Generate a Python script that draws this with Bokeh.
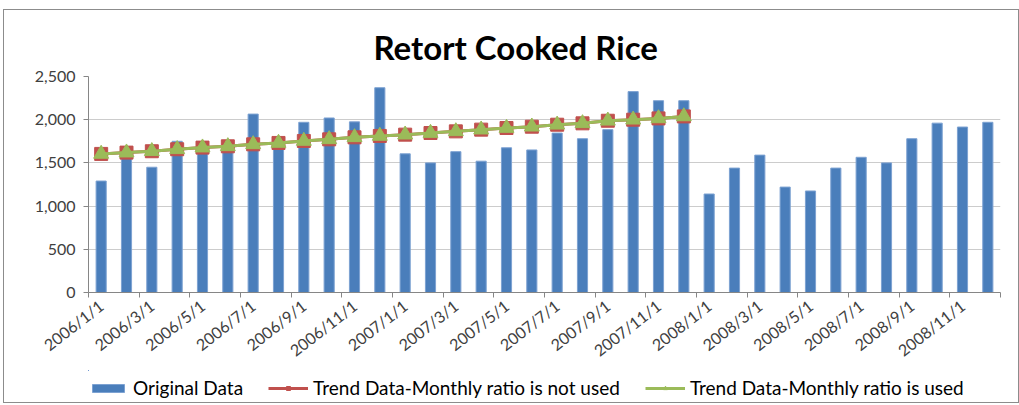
from bokeh.plotting import figure
from bokeh.layouts import column
from bokeh.models import (FixedTicker, NumeralTickFormatter, Legend, LegendItem, Range1d)
from bokeh.embed import file_html
from bokeh.resources import INLINE

months = ["2006/1/1", "2006/2/1", "2006/3/1", "2006/4/1", "2006/5/1", "2006/6/1",
          "2006/7/1", "2006/8/1", "2006/9/1", "2006/10/1", "2006/11/1", "2006/12/1",
          "2007/1/1", "2007/2/1", "2007/3/1", "2007/4/1", "2007/5/1", "2007/6/1",
          "2007/7/1", "2007/8/1", "2007/9/1", "2007/10/1", "2007/11/1", "2007/12/1",
          "2008/1/1", "2008/2/1", "2008/3/1", "2008/4/1", "2008/5/1", "2008/6/1",
          "2008/7/1", "2008/8/1", "2008/9/1", "2008/10/1", "2008/11/1", "2008/12/1"]

original_data = [1290, 1580, 1450, 1750, 1680, 1720, 2065, 1700, 1970, 2020, 1975, 2370,
                 1605, 1500, 1630, 1520, 1675, 1650, 1845, 1780, 1885, 2325, 2220, 2220,
                 1140, 1440, 1590, 1220, 1175, 1440, 1565, 1500, 1780, 1960, 1915, 1970]

trend_not_used = [1604, 1619, 1635, 1658, 1677, 1692, 1715, 1731, 1754, 1773, 1796, 1812,
                  1827, 1846, 1865, 1885, 1904, 1919, 1942, 1958, 1988, 2000, 2015, 2038]

trend_used = [1604, 1619, 1635, 1658, 1677, 1692, 1715, 1731, 1754, 1773, 1796, 1812,
              1827, 1846, 1865, 1885, 1904, 1919, 1942, 1958, 1988, 2000, 2015, 2038]

y_ticks = [0, 500, 1000, 1500, 2000, 2500]

series_names = ["Original Data", "Trend Data-Monthly ratio is not used",
                "Trend Data-Monthly ratio is used"]

x = list(range(1, len(months) + 1))
xt = x[:len(trend_not_used)]
label_ticks = x[::2]
boundary_ticks = [t - 0.5 for t in label_ticks] + [len(months) + 0.5]

FONT = "Lato"
GREY = "#868686"
TXT = "#404040"
BLUE = "#4a7ebb"
BAR_EDGE = "#7da2d2"
RED = "#c0504d"
GREEN = "#9bbb59"
W = 1014


def draw_series(fig, sq_size, tri_size):
    bar = fig.vbar(x=x, top=original_data, width=0.4, fill_color=BLUE,
                   line_color=BAR_EDGE, line_width=1)
    rl = fig.line(xt, trend_not_used, line_color=RED, line_width=3)
    rm = fig.scatter(xt, trend_not_used, marker="square", size=sq_size,
                     fill_color=RED, line_color=RED)
    gl = fig.line(xt, trend_used, line_color=GREEN, line_width=3)
    gm = fig.scatter(xt, trend_used, marker="triangle", size=tri_size,
                     fill_color=GREEN, line_color=GREEN)
    return bar, rl, rm, gl, gm


p = figure(width=W, height=360, output_backend="svg", toolbar_location=None,
           x_range=Range1d(0.5, len(months) + 0.5), y_range=Range1d(0, 2500),
           min_border_left=84, min_border_right=18, min_border_top=66, min_border_bottom=78)
p.outline_line_color = None

p.title.text = "Retort Cooked Rice"
p.title.align = "left"
p.title.offset = 285
p.title.text_font = FONT
p.title.text_font_style = "bold"
p.title.text_font_size = "33px"
p.title.text_color = "#000000"
p.title.standoff = 20

# y axis
p.yaxis.ticker = FixedTicker(ticks=y_ticks)
p.yaxis.formatter = NumeralTickFormatter(format="0,0")
p.yaxis.axis_line_color = GREY
p.yaxis.major_tick_line_color = GREY
p.yaxis.major_tick_out = 5
p.yaxis.major_tick_in = 0
p.yaxis.minor_tick_line_color = None
p.yaxis.major_label_text_font = FONT
p.yaxis.major_label_text_font_size = "16px"
p.yaxis.major_label_text_color = TXT
p.yaxis.major_label_standoff = 8

# x axis
p.xaxis.ticker = FixedTicker(ticks=label_ticks, minor_ticks=boundary_ticks)
p.xaxis.major_label_overrides = {t: months[t - 1] for t in label_ticks}
p.xaxis.major_label_orientation = 0.66
p.xaxis.major_tick_out = 0
p.xaxis.major_tick_in = 0
p.xaxis.minor_tick_out = 5
p.xaxis.minor_tick_in = 0
p.xaxis.minor_tick_line_color = GREY
p.xaxis.axis_line_color = GREY
p.xaxis.major_label_text_font = FONT
p.xaxis.major_label_text_font_size = "16px"
p.xaxis.major_label_text_color = TXT
p.xaxis.major_label_standoff = 6

p.xgrid.grid_line_color = None
p.ygrid.grid_line_color = "#cccccc"
p.ygrid.ticker = FixedTicker(ticks=y_ticks)

draw_series(p, 13, 15)

# legend strip: same series drawn out of view, only their legend is shown
lg = figure(width=W, height=32, output_backend="svg", toolbar_location=None,
            x_range=Range1d(1000, 1001), y_range=Range1d(-2, -1),
            x_axis_location=None, y_axis_location=None,
            min_border_left=0, min_border_right=0, min_border_top=0, min_border_bottom=0)
lg.grid.visible = False
lg.outline_line_color = None
l_bar, l_rl, l_rm, l_gl, l_gm = draw_series(lg, 9, 10)

legend = Legend(items=[
    LegendItem(label=series_names[0], renderers=[l_bar]),
    LegendItem(label=series_names[1], renderers=[l_rl, l_rm]),
    LegendItem(label=series_names[2], renderers=[l_gl, l_gm]),
], orientation="horizontal", location=(0, 3))
legend.border_line_color = None
legend.background_fill_alpha = 0
legend.label_text_font = FONT
legend.label_text_font_size = "19px"
legend.label_text_color = "#000000"
legend.glyph_width = 40
legend.glyph_height = 10
legend.label_standoff = 5
legend.spacing = 25
legend.padding = 2
legend.margin = 0
lg.add_layout(legend, "center")

layout = column(p, lg, margin=(9, 0, 0, 3), styles={"border": "1px solid #8c8c8c"})

open("out.html", "w").write(file_html(layout, INLINE))
